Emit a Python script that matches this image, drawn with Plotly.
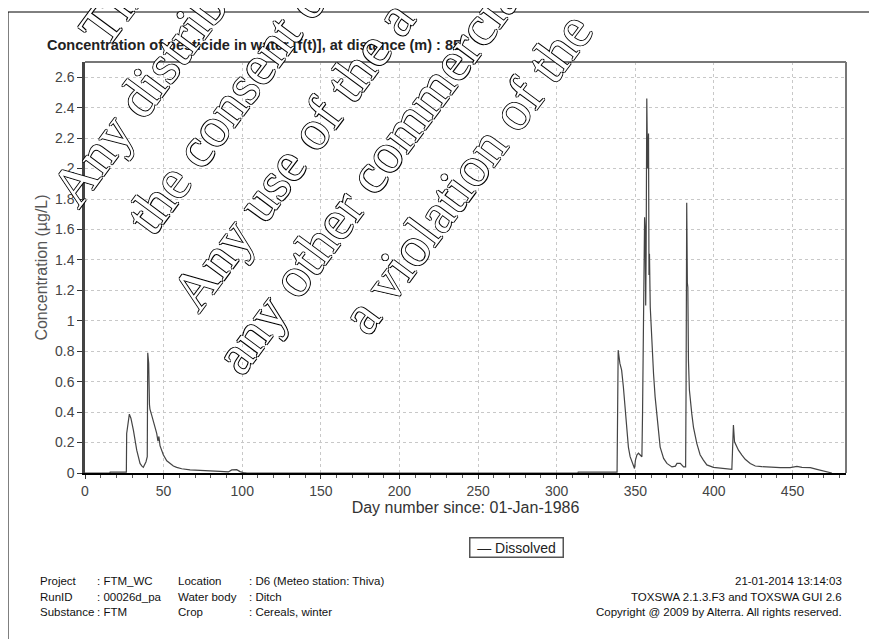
import math
import plotly.graph_objects as go

# ---------------- data ----------------
days = [0, 15.8, 16, 26.3, 26.5, 27.3, 28.2, 29.2, 30.8, 32.9, 35.0, 36.2, 37.1, 38.8,
        39.6, 39.9, 40.2, 40.5, 41.0, 41.3, 42.4, 43.5, 44.5, 45.6, 46.4, 47.0, 47.7,
        48.8, 49.8, 52.0, 54.1, 56.2, 58.3, 61.5, 66.8, 77.4, 85.9, 91.2, 93.3, 96.5,
        98.6, 100.7, 103, 313.5, 313.7, 338.4, 338.6, 339.1, 340.2, 341.3, 342.4, 343.5,
        344.6, 345.6, 346.7, 348.2, 349.5, 350.1, 351.0, 352.0, 353.1, 354.2, 354.6,
        355.2, 355.9, 356.3, 356.6, 356.9, 357.3, 357.8, 358.4, 358.7, 359.0, 359.5,
        360.5, 361.6, 362.6, 363.7, 364.8, 365.8, 368.0, 370.1, 373.3, 375.5, 376.5,
        378.6, 380.7, 382.0, 382.3, 382.7, 383.1, 383.4, 383.8, 384.4, 385.9, 387.0,
        389.1, 391.2, 393.3, 395.5, 399.7, 404.0, 408.2, 411.4, 411.8, 412.4, 413.1,
        414.1, 415.6, 417.8, 419.9, 423.1, 426.3, 430.5, 435.8, 442.2, 448.5, 452.8,
        456.0, 461.3, 465.5, 468.7, 471.9, 475.0]
dissolved = [0, 0, 0.006, 0.006, 0.26, 0.33, 0.387, 0.36, 0.28, 0.15, 0.063, 0.045, 0.037, 0.074,
             0.107, 0.79, 0.74, 0.72, 0.45, 0.42, 0.38, 0.34, 0.29, 0.26, 0.21, 0.24, 0.18,
             0.15, 0.12, 0.08, 0.063, 0.046, 0.037, 0.028, 0.02, 0.017, 0.011, 0.007, 0.02, 0.022,
             0.009, 0.003, 0, 0, 0.006, 0.006, 0.40, 0.807, 0.72, 0.676, 0.567, 0.41,
             0.28, 0.17, 0.107, 0.063, 0.03, 0.085, 0.118, 0.13, 0.118, 0.107, 0.39,
             1.07, 1.68, 1.6, 1.1, 1.45, 2.46, 2.0, 2.23, 1.3, 1.44, 1.09,
             0.83, 0.65, 0.5, 0.37, 0.26, 0.17, 0.096, 0.063, 0.04, 0.045, 0.063,
             0.063, 0.04, 0.04, 0.6, 1.775, 1.25, 1.22, 0.74, 0.545, 0.39, 0.3,
             0.195, 0.12, 0.085, 0.053, 0.037, 0.031, 0.026, 0.024, 0.14, 0.315, 0.205,
             0.184, 0.15, 0.118, 0.09, 0.063, 0.046, 0.042, 0.037, 0.035, 0.035, 0.044,
             0.037, 0.035, 0.024, 0.015, 0.009, 0.0]

series_name = "Dissolved"
chart_title = "Concentration of pesticide in water [f(t)], at distance (m) : 85"
x_title = "Day number since: 01-Jan-1986"
y_title = "Concentration (µg/L)"

footer_labels_1 = ["Project", "RunID", "Substance"]
footer_values_1 = [": FTM_WC", ": 00026d_pa", ": FTM"]
footer_labels_2 = ["Location", "Water body", "Crop"]
footer_values_2 = [": D6 (Meteo station: Thiva)", ": Ditch", ": Cereals, winter"]
footer_right = ["21-01-2014 13:14:03", "TOXSWA 2.1.3.F3 and TOXSWA GUI 2.6",
                "Copyright @ 2009 by Alterra. All rights reserved."]

watermark_lines = ["Th", "Any distrib", "the consent of", "Any use of the a",
                   "any other commercia", "a violation of the"]

# ---------------- layout helpers (page pixel coords) ----------------
OFF = 8                      # page body margin
W, H = 877 - OFF, 639 - OFF  # figure size
PL, PR, PT, PB = 85, 846, 62, 473   # plot area in page pixels


def px(xp):
    return (xp - PL) / (PR - PL)


def py(yp):
    return (PB - yp) / (PB - PT)


FONT = "Liberation Sans, Arial, sans-serif"

fig = go.Figure()
fig.add_trace(go.Scatter(x=days, y=dissolved, mode="lines", name=series_name,
                         line=dict(color="#444444", width=1.2), showlegend=False))

annotations = []
annotations.append(dict(text="<b>" + chart_title + "</b>", xref="paper", yref="paper",
                        x=px(45), y=py(45), xanchor="left", yanchor="middle",
                        showarrow=False, font=dict(family=FONT, size=14.5, color="#222")))

# legend box
annotations.append(dict(text="— " + series_name, xref="paper", yref="paper",
                        x=px(516), y=py(547), xanchor="center", yanchor="middle",
                        showarrow=False, align="center", width=88, height=14,
                        bordercolor="#555", borderwidth=1.5, borderpad=2, bgcolor="white",
                        font=dict(family=FONT, size=14, color="#222")))

rows_y = [581, 597, 612]
for i in range(3):
    for xpos, txt in [(38, footer_labels_1[i]), (95, footer_values_1[i]),
                      (176, footer_labels_2[i]), (247, footer_values_2[i])]:
        annotations.append(dict(text=txt, xref="paper", yref="paper", x=px(xpos), y=py(rows_y[i]),
                                xanchor="left", yanchor="middle", showarrow=False,
                                font=dict(family=FONT, size=11.5, color="#111")))
    annotations.append(dict(text=footer_right[i], xref="paper", yref="paper", x=px(844),
                            y=py(rows_y[i]), xanchor="right", yanchor="middle", showarrow=False,
                            font=dict(family=FONT, size=11.5, color="#111")))

# watermark (outlined serif text rotated)
wm_size = 56
theta = math.radians(53.5)
box_h = 1.107 * wm_size + 4
desc = 0.216 * wm_size + 2
wm_starts = [(92, 42), (63, 203), (138, 230), (183, 307), (227, 370), (353, 330)]
wm_fix = (14, 9)
outline = "1px 0 0 #000, -1px 0 0 #000, 0 1px 0 #000, 0 -1px 0 #000"
for txt, (bx, by) in zip(watermark_lines, wm_starts):
    xa = bx - (box_h - desc) * math.sin(theta) + wm_fix[0]
    ya = by + desc * math.cos(theta) + wm_fix[1]
    annotations.append(dict(text=txt, xref="paper", yref="paper", x=px(xa), y=py(ya),
                            xanchor="left", yanchor="bottom", showarrow=False, textangle=-53.5,
                            font=dict(family="Liberation Serif, Times New Roman, serif",
                                      size=wm_size, color="white", shadow=outline)))

shapes = [
    dict(type="line", xref="paper", yref="paper", x0=px(8), x1=px(877), y0=py(12), y1=py(12),
         line=dict(color="black", width=1)),
    dict(type="line", xref="paper", yref="paper", x0=px(8), x1=px(8), y0=py(12), y1=py(639),
         line=dict(color="black", width=1)),
    dict(type="line", xref="paper", yref="paper", x0=0, x1=1, y0=1, y1=1,
         line=dict(color="#777", width=2)),
    dict(type="line", xref="paper", yref="paper", x0=1, x1=1, y0=0, y1=1,
         line=dict(color="#777", width=2)),
]

fig.update_layout(
    width=W, height=H,
    margin=dict(l=PL - OFF, r=(W + OFF) - PR, t=PT - OFF, b=(H + OFF) - PB, pad=0),
    paper_bgcolor="white", plot_bgcolor="white",
    font=dict(family=FONT),
    showlegend=False,
    annotations=annotations,
    shapes=shapes,
    xaxis=dict(range=[0, 484], tick0=0, dtick=50, ticks="outside", ticklen=4, tickcolor="#333",
               tickfont=dict(family=FONT, size=14, color="#444"),
               showgrid=True, gridcolor="#c8c8c8", griddash="dot", gridwidth=1,
               showline=True, linecolor="black", linewidth=2, zeroline=False,
               minor=dict(dtick=10, ticks="outside", ticklen=3, tickcolor="#555", showgrid=False),
               title=dict(text=x_title, font=dict(family=FONT, size=16, color="#333"), standoff=4),
               automargin=False),
    yaxis=dict(range=[0, 2.7], tick0=0, dtick=0.2, ticks="outside", ticklen=5, tickcolor="#333",
               tickfont=dict(family=FONT, size=14, color="#444"),
               showgrid=True, gridcolor="#c8c8c8", griddash="dot", gridwidth=1,
               showline=True, linecolor="#444", linewidth=2.5, zeroline=False,
               title=dict(text=y_title, font=dict(family=FONT, size=16, color="#555"), standoff=4),
               automargin=False),
)

fig.write_html("out.html")
